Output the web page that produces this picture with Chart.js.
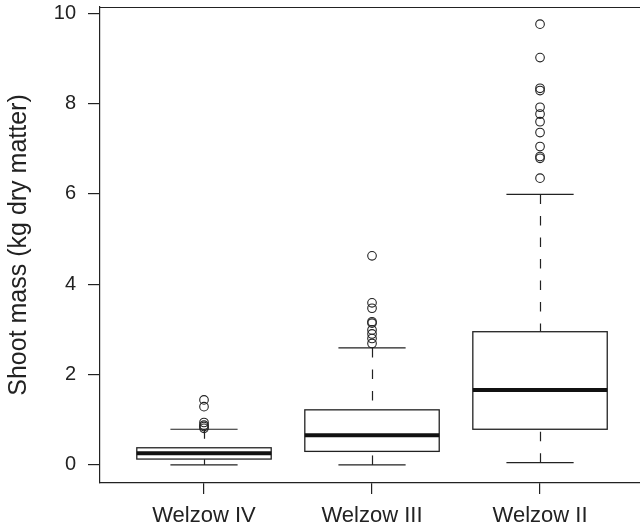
<!DOCTYPE html>
<html>
<head>
<meta charset="utf-8">
<script src="https://cdn.jsdelivr.net/npm/chart.js"></script>
<style>
  html, body { margin: 0; padding: 0; background: #fff; }
</style>
</head>
<body>
<canvas id="boxChart" width="640" height="532"></canvas>
<script>

// groups along the x axis
var categories = ['Welzow IV', 'Welzow III', 'Welzow II'];

// five number summaries
var whiskerLow  = [0.00, 0.00, 0.05];
var lowerQuart  = [0.13, 0.30, 0.79];
var medians     = [0.26, 0.66, 1.66];
var upperQuart  = [0.38, 1.22, 2.95];
var whiskerHigh = [0.79, 2.59, 5.99];

// outlying points per group
var outliersIV  = [0.81, 0.85, 0.88, 0.94, 1.29, 1.44];
var outliersIII = [2.69, 2.80, 2.90, 2.99, 3.14, 3.17, 3.47, 3.59, 4.63];
var outliersII  = [6.35, 6.79, 6.83, 7.05, 7.36, 7.60, 7.77, 7.92, 8.29, 8.34, 9.02, 9.76];

var yTicks = [0, 2, 4, 6, 8, 10];

var ink = '#222';

// turn an outlier list into scatter points at the group position
var toPoints = function(values, groupNo) {
  return values.map(function(v) { return { x: groupNo, y: v }; });
};

// draws boxes, whiskers and medians using the chart scales
var boxPlugin = {
  id: 'boxes',
  beforeDatasetsDraw: function(chart) {
    var ctx = chart.ctx;
    var xs = chart.scales.x;
    var ys = chart.scales.y;
    var area = chart.chartArea;

    ctx.save();
    ctx.strokeStyle = ink;
    ctx.lineWidth = 1.2;

    // top side of the plot frame
    ctx.beginPath();
    ctx.moveTo(area.left, area.top + 0.5);
    ctx.lineTo(area.right, area.top + 0.5);
    ctx.stroke();

    for (var i = 0; i < categories.length; i++) {
      var at = i + 1;
      var xc = Math.round(xs.getPixelForValue(at)) + 0.5;
      var xl = xs.getPixelForValue(at - 0.4);
      var xr = xs.getPixelForValue(at + 0.4);
      var cl = xs.getPixelForValue(at - 0.2);
      var cr = xs.getPixelForValue(at + 0.2);
      var yLo = ys.getPixelForValue(whiskerLow[i]);
      var yQ1 = ys.getPixelForValue(lowerQuart[i]);
      var yMd = ys.getPixelForValue(medians[i]);
      var yQ3 = ys.getPixelForValue(upperQuart[i]);
      var yHi = ys.getPixelForValue(whiskerHigh[i]);

      // dashed whiskers, starting from the caps
      ctx.lineWidth = 1.2;
      ctx.setLineDash([9.5, 12]);
      ctx.beginPath();
      ctx.moveTo(xc, yLo);
      ctx.lineTo(xc, yQ1);
      ctx.stroke();
      ctx.beginPath();
      ctx.moveTo(xc, yHi);
      ctx.lineTo(xc, yQ3);
      ctx.stroke();
      ctx.setLineDash([]);

      // caps
      ctx.beginPath();
      ctx.moveTo(cl, yLo);
      ctx.lineTo(cr, yLo);
      ctx.moveTo(cl, yHi);
      ctx.lineTo(cr, yHi);
      ctx.stroke();

      // box
      ctx.fillStyle = '#fff';
      ctx.fillRect(xl, yQ3, xr - xl, yQ1 - yQ3);
      ctx.lineWidth = 1.3;
      ctx.strokeRect(xl, yQ3, xr - xl, yQ1 - yQ3);

      // median
      ctx.lineWidth = 4;
      ctx.strokeStyle = '#111';
      ctx.beginPath();
      ctx.moveTo(xl, yMd);
      ctx.lineTo(xr, yMd);
      ctx.stroke();
      ctx.strokeStyle = ink;
    }
    ctx.restore();
  }
};

var pointStyle = {
  pointStyle: 'circle',
  pointRadius: 4.3,
  pointBorderWidth: 1.1,
  borderColor: ink,
  backgroundColor: 'rgba(0,0,0,0)',
  showLine: false
};

var ctx = document.getElementById('boxChart');

var myChart = new Chart(ctx, {
  type: 'scatter',
  data: {
    datasets: [
      Object.assign({ label: categories[0], data: toPoints(outliersIV, 1) }, pointStyle),
      Object.assign({ label: categories[1], data: toPoints(outliersIII, 2) }, pointStyle),
      Object.assign({ label: categories[2], data: toPoints(outliersII, 3) }, pointStyle)
    ]
  },
  options: {
    responsive: false,
    animation: false,
    devicePixelRatio: 1,
    layout: { autoPadding: false, padding: { top: 7, right: 0, left: 0, bottom: 0 } },
    plugins: {
      legend: { display: false },
      tooltip: { enabled: false }
    },
    scales: {
      x: {
        type: 'linear',
        min: 0.381,
        max: 3.595,
        afterBuildTicks: function(scale) {
          scale.ticks = categories.map(function(c, i) { return { value: i + 1 }; });
        },
        afterFit: function(scale) {
          scale.height = 49;
          scale.paddingLeft = 0;
          scale.paddingRight = 0;
        },
        ticks: {
          autoSkip: false,
          maxRotation: 0,
          padding: 9,
          color: ink,
          font: { family: 'Liberation Sans, Arial, sans-serif', size: 22 },
          callback: function(v) { return categories[v - 1]; }
        },
        grid: { drawOnChartArea: false, tickLength: 11, color: ink, lineWidth: 1.2 },
        border: { color: ink, width: 1.2 }
      },
      y: {
        type: 'linear',
        min: -0.40,
        max: 10.14,
        afterBuildTicks: function(scale) {
          scale.ticks = yTicks.map(function(v) { return { value: v }; });
        },
        afterFit: function(scale) {
          scale.width = 100;
          scale.paddingTop = 0;
          scale.paddingBottom = 0;
        },
        ticks: {
          padding: 12,
          color: ink,
          font: { family: 'Liberation Sans, Arial, sans-serif', size: 20 }
        },
        grid: { drawOnChartArea: false, tickLength: 12, color: ink, lineWidth: 1.2 },
        border: { color: ink, width: 1.2 },
        title: {
          display: true,
          text: 'Shoot mass (kg dry matter)',
          color: ink,
          font: { family: 'Liberation Sans, Arial, sans-serif', size: 25 },
          padding: { top: 4, bottom: 0 }
        }
      }
    }
  },
  plugins: [boxPlugin]
});

</script>
</body>
</html>
